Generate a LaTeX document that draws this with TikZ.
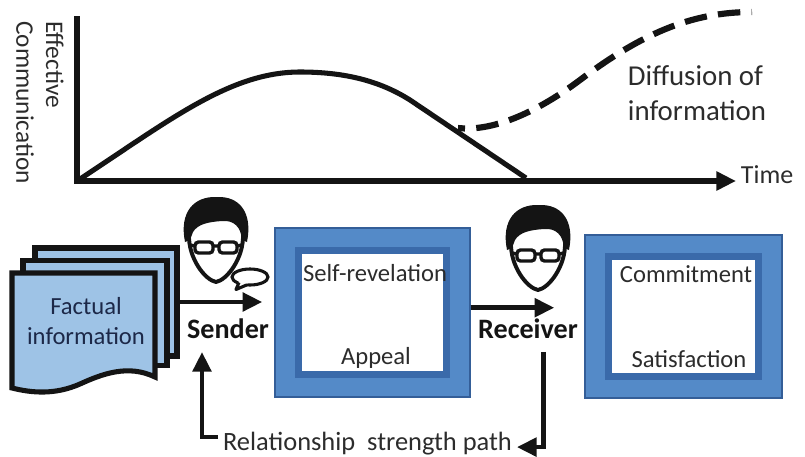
\documentclass[tikz,border=0pt]{standalone}
\usepackage{fontspec}
\setmainfont{Carlito}
\usetikzlibrary{arrows.meta,positioning,calc}
\definecolor{paperblue}{RGB}{158,195,230}
\definecolor{frameblue}{RGB}{84,138,200}
\definecolor{ringblue}{RGB}{58,106,170}
\definecolor{rimblue}{RGB}{52,94,152}
\definecolor{navy}{RGB}{28,40,72}
\definecolor{ink}{RGB}{20,20,20}
\tikzset{
  >={Triangle[length=14pt,width=13pt]},
  flow/.style={->,line width=3.3pt,draw=ink},
  axisline/.style={line width=3.6pt,draw=ink,line join=miter},
  trend/.style={line width=3.6pt,draw=ink,line join=round},
  spread/.style={line width=4.4pt,draw=ink,dash pattern=on 16pt off 8pt,dash phase=11pt},
  page/.style={draw=ink,line width=3.6pt,fill=paperblue},
  framebox/.style={draw=rimblue,line width=1pt,fill=frameblue},
  ringbox/.style={draw=ringblue,line width=5pt,fill=white},
  boxtext/.style={font=\fontsize{17.5}{21}\selectfont,text=ink!90},
  role/.style={font=\fontsize{20}{24}\selectfont\bfseries,text=ink},
  tag/.style={font=\fontsize{18.5}{22}\selectfont,text=ink!90},
  % little people
  pics/head/.style={code={
    \filldraw[fill=white,draw=ink,line width=2.8pt,line join=round]
      (-27,-6) .. controls (-28,18) and (-11,40) .. (0,42)
      .. controls (11,40) and (28,18) .. (27,-6)
      .. controls (27,-36) and (-27,-36) .. cycle;
    \fill[ink] (-31,2) .. controls (-37,-28) and (-22,-44) .. (1,-43)
      .. controls (23,-44) and (37,-28) .. (31,2) -- (26,0)
      .. controls (25,-13) and (18,-20) .. (6,-19)
      .. controls (-8,-18) and (-18,-16) .. (-23,-8) -- (-26,0) -- cycle;
    \filldraw[fill=white,draw=ink,line width=2.4pt,rounded corners=2.5pt]
      (-21,2) rectangle (-3,13) (3,2) rectangle (21,13);
    \draw[ink,line width=2.4pt] (-3,6) -- (3,6) (-21,6) -- (-26,5) (21,6) -- (26,5);
  }},
  pics/bubble/.style={code={
    \filldraw[fill=white,draw=ink,line width=2.2pt] (0,0) ellipse [x radius=18,y radius=8];
    \fill[white] (-11,4) -- (-2,6) -- (-14,12) -- cycle;
    \draw[ink,line width=2.2pt,line join=round] (-11,5.5) -- (-14,12.5) -- (-3,7.8);
  }},
}

\begin{document}
\begin{tikzpicture}[x=0.025cm,y=-0.025cm]
  \useasboundingbox (0,0) rectangle (805,456);

  % chart
  \coordinate (origin) at (77,181);
  \node[tag,anchor=base west] (time) at (736,183) {Time};
  \node[tag,rotate=-90,anchor=north west,inner sep=0pt,align=left,
    font=\fontsize{18}{21.3}\selectfont] (ylabel) at (64,21) {Effective\\Communication};
  \node[tag,anchor=west,align=left,font=\fontsize{20.5}{25}\selectfont]
    (diffusion) at (623,93) {Diffusion of\\information};
  \draw[axisline,->] (77,16) -- (origin) -- (origin -| time.west);
  \draw[trend] (origin) .. controls (170,120) and (230,72) .. (300,72)
    .. controls (345,72) and (380,81) .. (410,100) -- (526,178);
  \draw[spread] (458,128) .. controls (495,132) and (540,110) .. (580,80)
    .. controls (640,35) and (690,12) .. (752,12);

  % stack of documents
  \node[page,minimum width=3.55cm,minimum height=2.7cm] (back) at (106,302) {};
  \node[page,minimum width=3.6cm,minimum height=2.63cm] (middle) at (95,313) {};
  \filldraw[page] (12,273) -- (155,273) -- (155,377)
    .. controls (128,364) and (102,374) .. (80,384)
    .. controls (55,395) and (32,393) .. (12,388) -- cycle;
  \node[boxtext,text=navy,align=center] (fact) at (86,321) {Factual\\information};

  % people
  \pic at (216,240) {head};
  \pic at (250,277) {bubble};
  \pic at (538,248) {head};

  % message and relationship boxes
  \node[framebox,minimum width=4.875cm,minimum height=4.225cm] (msg) at (372.5,312.5) {};
  \node[ringbox,minimum width=3.7cm,minimum height=3.09cm] (msgin) at (msg.center) {};
  \node[boxtext,anchor=base] (reveal) at (375,281) {Self-revelation};
  \node[boxtext,anchor=base] (appeal) at (376,364) {Appeal};
  \node[framebox,minimum width=4.925cm,minimum height=4.075cm] (rel) at (683.5,316.5) {};
  \node[ringbox,minimum width=3.76cm,minimum height=2.99cm] (relin) at (rel.center) {};
  \node[boxtext,anchor=base] (commit) at (686,282) {Commitment};
  \node[boxtext,anchor=base] (satisfy) at (689,367) {Satisfaction};

  % sender / receiver
  \node[role,anchor=base] (sender) at (228,338) {Sender};
  \node[role,anchor=base] (receiver) at (528,338) {Receiver};
  \draw[flow,shorten >=0.3cm] (back.east) -- (back.east -| msg.west);
  \draw[flow,shorten >=0.75cm] ([yshift=0.12cm]msg.east) -- ([yshift=0.12cm]msg.east -| rel.west);

  % feedback loop
  \node[tag,anchor=base,font=\fontsize{18.8}{22}\selectfont] (strength) at (367.5,450)
    {Relationship\ \ strength path};
  \draw[flow,shorten <=0.22cm] ([xshift=0.38cm]receiver.south) |- ([yshift=-0.1cm]strength.east);
  \draw[flow,shorten >=0.22cm] ([yshift=0.15cm]strength.west) -| ([xshift=-0.65cm]sender.south);
\end{tikzpicture}
\end{document}
